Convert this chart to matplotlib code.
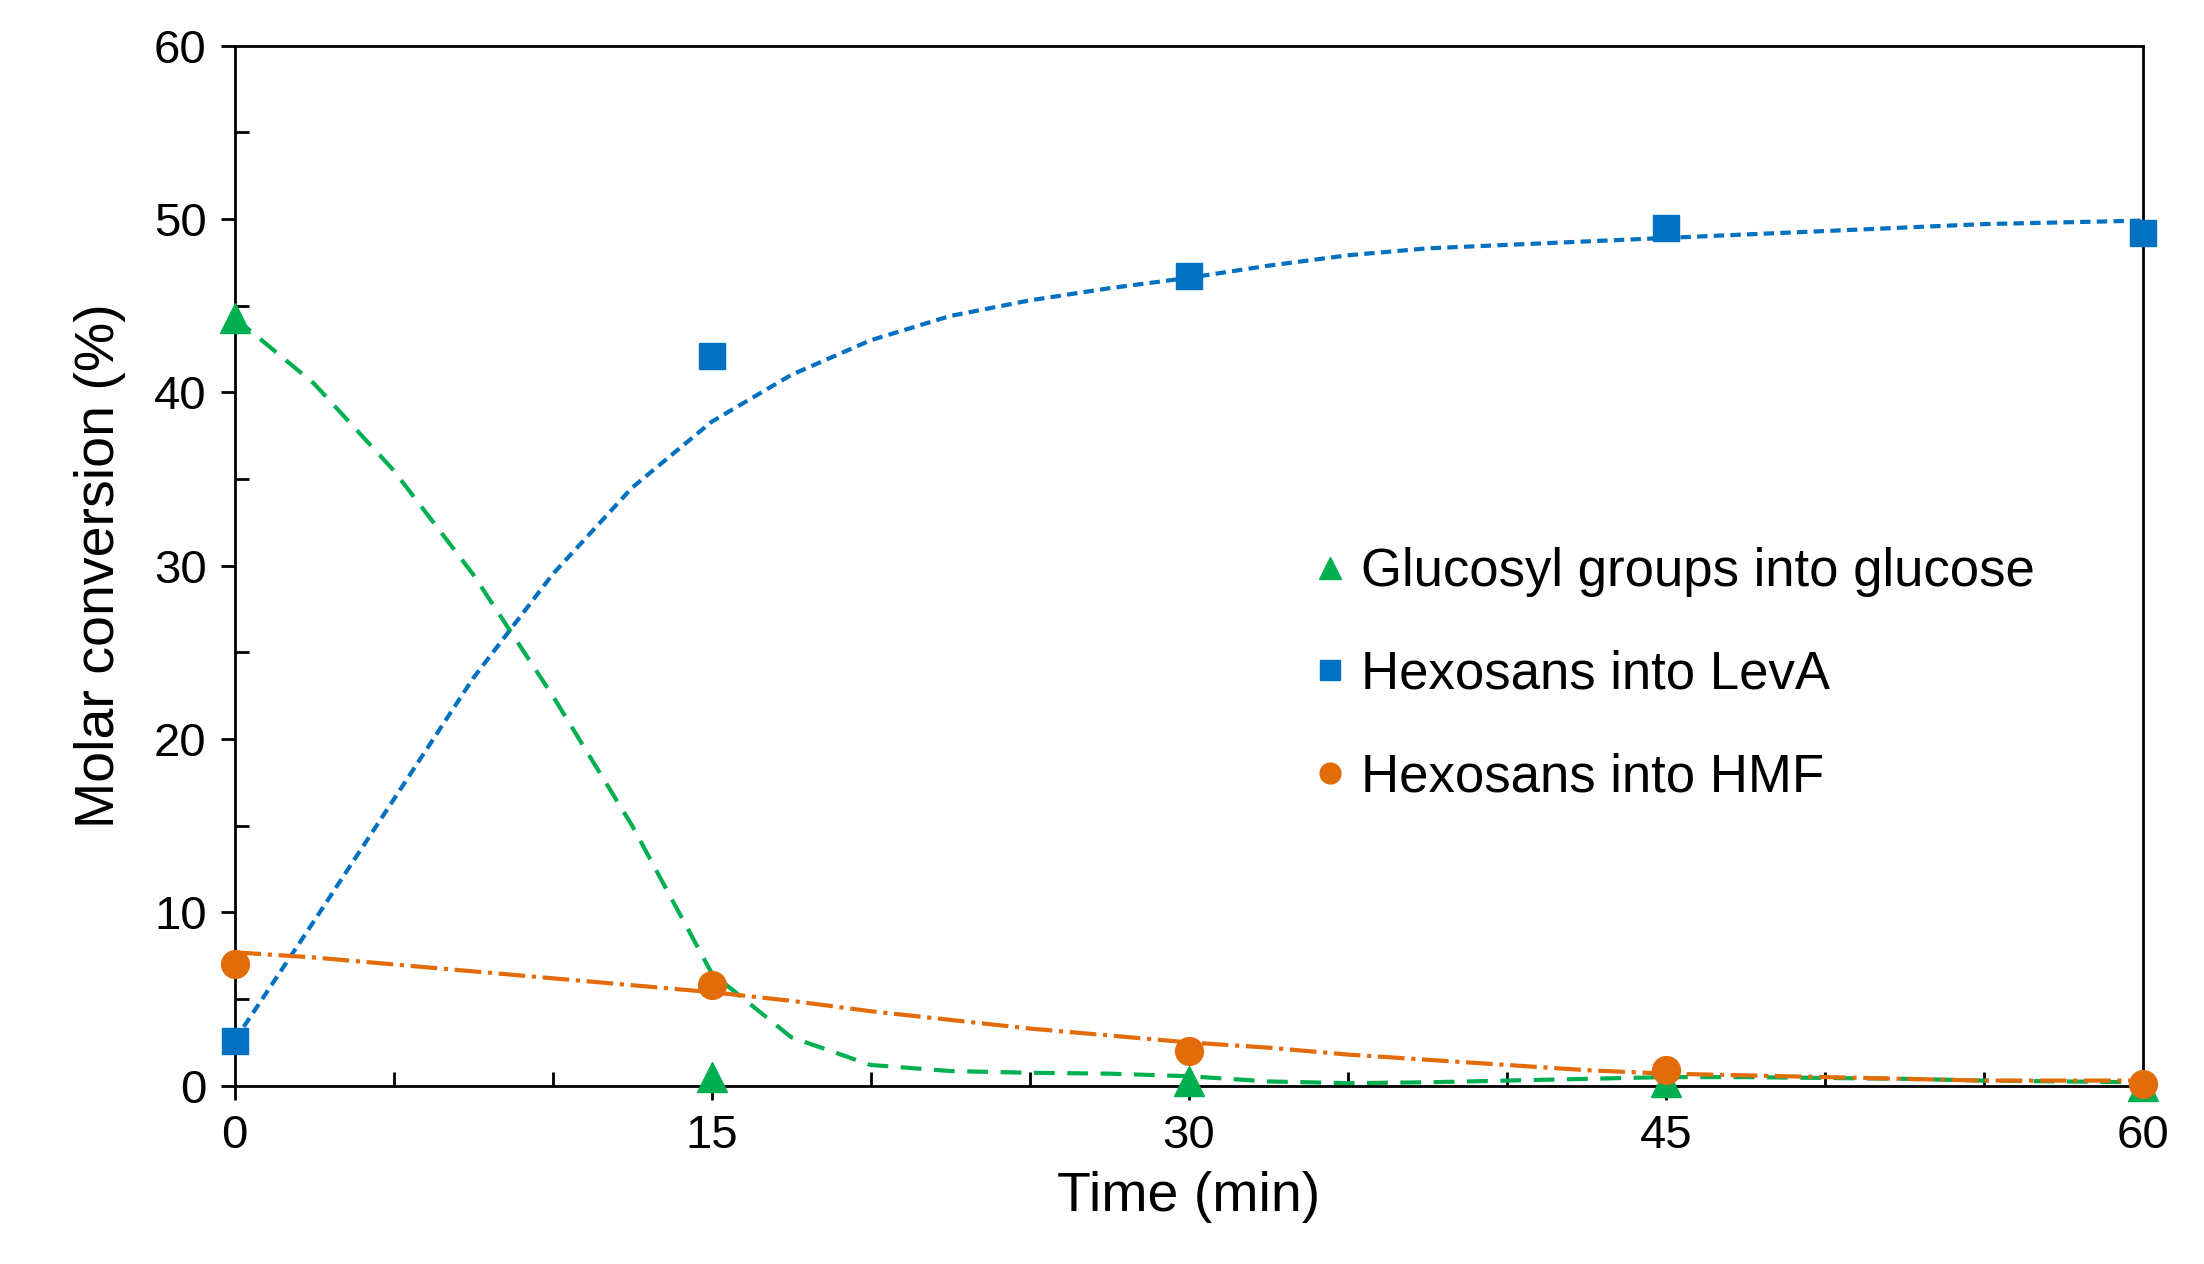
import matplotlib
matplotlib.use("Agg")
import matplotlib.pyplot as plt
import numpy as np

plt.rcParams['font.family'] = ['Liberation Sans', 'DejaVu Sans']

time = [0, 15, 30, 45, 60]
glucose = [44.3, 0.5, 0.3, 0.2, 0.0]
leva = [2.6, 42.1, 46.7, 49.5, 49.2]
hmf = [7.0, 5.8, 2.0, 0.9, 0.1]

trend_t = [i * 2.5 for i in range(25)]
glucose_trend = [44.3, 40.5, 35.5, 29.5, 22.5, 15, 6.5, 2.8, 1.2, 0.85, 0.75, 0.7, 0.55, 0.25, 0.15,
                 0.2, 0.3, 0.4, 0.5, 0.5, 0.45, 0.4, 0.3, 0.25, 0.2]
leva_trend = [2.6, 9.5, 16.5, 23.5, 29.5, 34.5, 38.3, 41, 43, 44.4, 45.3, 46, 46.6, 47.3, 47.9,
              48.3, 48.5, 48.7, 48.9, 49.1, 49.3, 49.5, 49.7, 49.8, 49.9]
hmf_trend = [7.7, 7.4, 7.0, 6.6, 6.2, 5.8, 5.4, 4.9, 4.3, 3.8, 3.3, 2.9, 2.5, 2.2, 1.8,
             1.5, 1.2, 0.9, 0.7, 0.6, 0.5, 0.4, 0.3, 0.3, 0.3]

green, blue, orange = '#00B050', '#0070C0', '#E36C0A'

fig = plt.figure(figsize=(22.04, 12.64), dpi=100)
ax = fig.add_axes([0.1064, 0.141, 0.8736 - 0.0076, 0.823])

ax.plot(trend_t, glucose_trend, '--', color=green, lw=3, dashes=(5, 3), clip_on=False)
ax.plot(trend_t, leva_trend, '--', color=blue, lw=3, dashes=(2.5, 1.5), clip_on=False)
ax.plot(trend_t, hmf_trend, '-.', color=orange, lw=3, clip_on=False)

ax.plot(time, glucose, '^', color=green, ms=21, ls='none', clip_on=False, zorder=5,
        label='Glucosyl groups into glucose')
ax.plot(time, leva, 's', color=blue, ms=19, ls='none', clip_on=False, zorder=5,
        label='Hexosans into LevA')
ax.plot(time, hmf, 'o', color=orange, ms=20, ls='none', clip_on=False, zorder=5,
        label='Hexosans into HMF')

ax.set_xlim(0, 60)
ax.set_ylim(0, 60)
ax.set_xticks([0, 15, 30, 45, 60])
ax.set_xticks(np.arange(0, 61, 5), minor=True)
ax.set_yticks(np.arange(0, 61, 10))
ax.set_yticks(np.arange(0, 61, 5), minor=True)
ax.tick_params(axis='both', which='major', labelsize=34, length=10, width=2, direction='out', pad=10)
ax.tick_params(axis='x', which='minor', length=10, width=2, direction='in')
ax.tick_params(axis='y', which='minor', length=10, width=2, direction='in')
for s in ax.spines.values():
    s.set_linewidth(2)
ax.set_xlabel('Time (min)', fontsize=40, labelpad=10)
ax.set_ylabel('Molar conversion (%)', fontsize=40, labelpad=20)

ax.legend(loc='center left', bbox_to_anchor=(0.535, 0.395), fontsize=38, frameon=False,
          handletextpad=0.1, handlelength=1.0, labelspacing=1.0, markerscale=0.75)

fig.savefig('out.png', dpi=100)
